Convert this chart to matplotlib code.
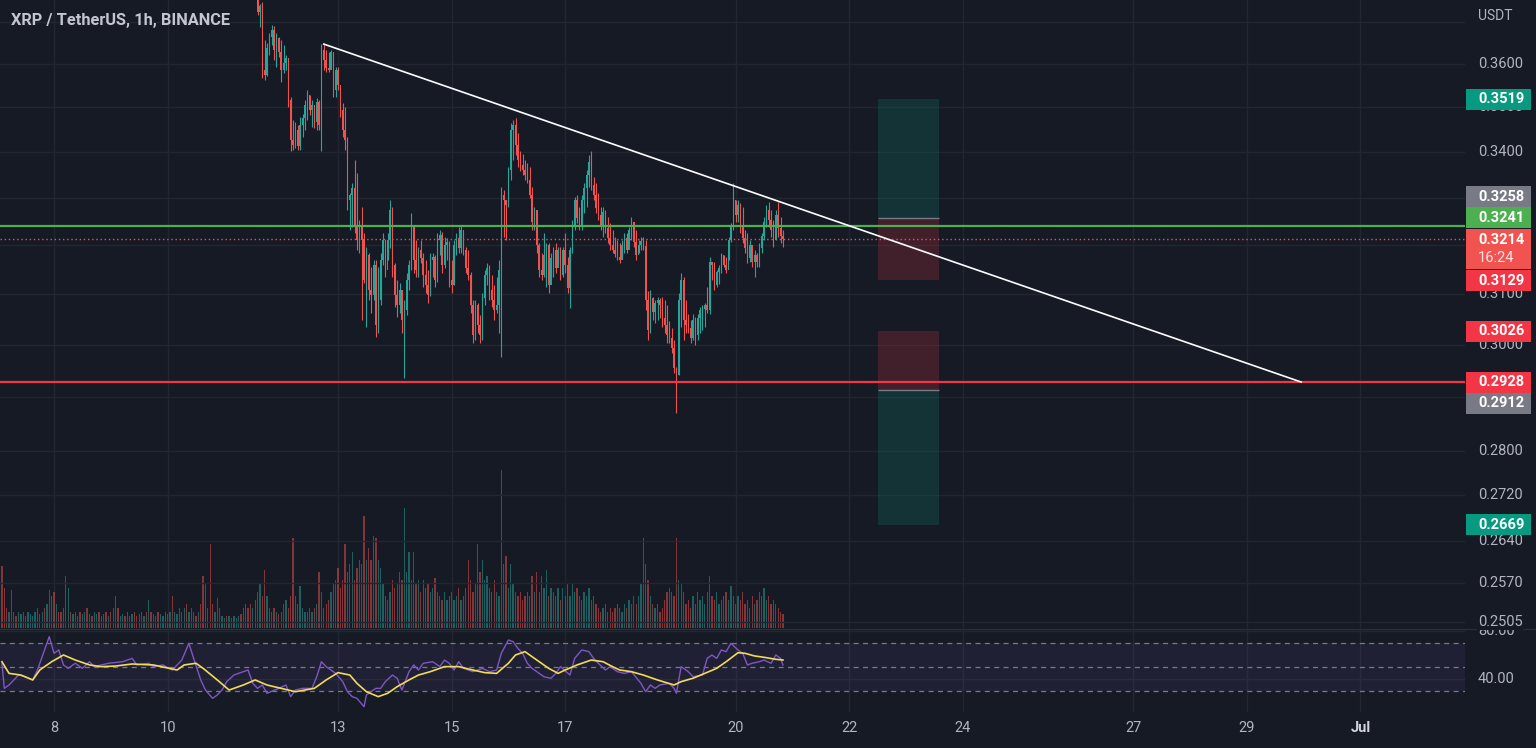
import numpy as np
import pandas as pd
import matplotlib
matplotlib.use('Agg')
import matplotlib.pyplot as plt
import matplotlib.transforms as mtransforms
from matplotlib.patches import Rectangle
from matplotlib.lines import Line2D

plt.rcParams['font.family'] = ['Roboto', 'DejaVu Sans']

# ---------------- data ----------------
# hourly candles, 2022-06-11 14:00 .. 2022-06-20 20:00 (XRP/USDT, Binance)
first_open = 0.3790
closes = [
    0.3724, 0.3739, 0.3586, 0.3574, 0.3638, 0.3664, 0.3681, 0.3633, 0.3662, 0.3628,
    0.3586, 0.3602, 0.3614, 0.3517, 0.3427, 0.3416, 0.3449, 0.3413, 0.3460, 0.3476,
    0.3505, 0.3528, 0.3494, 0.3505, 0.3467, 0.3512, 0.3460, 0.3633,
    0.3609, 0.3591, 0.3586, 0.3628, 0.3540, 0.3586, 0.3551, 0.3494, 0.3449, 0.3427,
    0.3296, 0.3306, 0.3321, 0.3242, 0.3211, 0.3242, 0.3211, 0.3129, 0.3180, 0.3108,
    0.3098, 0.3160, 0.3038, 0.3088, 0.3170, 0.3211, 0.3149, 0.3211, 0.3274, 0.3160,
    0.3098, 0.3078, 0.3108, 0.3048, 0.3068, 0.3129, 0.3160, 0.3242, 0.3170, 0.3149,
    0.3190, 0.3174, 0.3139, 0.3119, 0.3098, 0.3170, 0.3176, 0.3129, 0.3211, 0.3221,
    0.3160, 0.3200, 0.3207, 0.3129, 0.3119, 0.3200, 0.3215, 0.3194, 0.3232, 0.3190,
    0.3153, 0.3139, 0.3078, 0.3019, 0.3078, 0.3038, 0.3019, 0.3092, 0.3139, 0.3153,
    0.3108, 0.3088, 0.3068, 0.3078, 0.3149, 0.3306, 0.3296, 0.3285, 0.3361, 0.3449,
    0.3460, 0.3416,
    0.3382, 0.3371, 0.3361, 0.3350, 0.3339, 0.3306, 0.3249, 0.3274, 0.3200, 0.3149,
    0.3139, 0.3180, 0.3200, 0.3119, 0.3174, 0.3190, 0.3153, 0.3190, 0.3139, 0.3190,
    0.3160, 0.3112, 0.3190, 0.3242, 0.3296, 0.3257, 0.3242, 0.3296, 0.3321, 0.3350,
    0.3378, 0.3328,
    0.3306, 0.3278, 0.3263, 0.3242, 0.3270, 0.3236, 0.3215, 0.3200, 0.3190, 0.3182,
    0.3176, 0.3170, 0.3200, 0.3215, 0.3190, 0.3232, 0.3249, 0.3207, 0.3180, 0.3200,
    0.3209, 0.3198,
    0.3088, 0.3029, 0.3092, 0.3064, 0.3082, 0.3088, 0.3078, 0.3052, 0.3038, 0.3019,
    0.3013, 0.2994, 0.2955, 0.2941,
    0.3088, 0.3129, 0.3048, 0.3038, 0.3033, 0.3013, 0.3048, 0.3019, 0.3052, 0.3068,
    0.3070, 0.3078, 0.3068, 0.3166, 0.3160, 0.3119, 0.3145, 0.3153, 0.3180, 0.3160,
    0.3149, 0.3211, 0.3242, 0.3296,
    0.3263, 0.3285, 0.3242, 0.3215, 0.3194, 0.3174, 0.3200, 0.3166, 0.3180, 0.3166,
    0.3194, 0.3219, 0.3249, 0.3274, 0.3253, 0.3232, 0.3211, 0.3263, 0.3236, 0.3219,
    0.3214,
]
highs = [
    0.3800, 0.3743, 0.3748, 0.3657, 0.3650, 0.3674, 0.3693, 0.3690, 0.3674, 0.3664,
    0.3657, 0.3645, 0.3621, 0.3614, 0.3524, 0.3471, 0.3467, 0.3460, 0.3478, 0.3485,
    0.3517, 0.3540, 0.3528, 0.3517, 0.3505, 0.3521, 0.3517, 0.3647,
    0.3650, 0.3633, 0.3628, 0.3633, 0.3626, 0.3593, 0.3593, 0.3547, 0.3510, 0.3501,
    0.3433, 0.3310, 0.3332, 0.3382, 0.3354, 0.3253, 0.3281, 0.3226, 0.3197, 0.3184,
    0.3155, 0.3170, 0.3170, 0.3155, 0.3184, 0.3226, 0.3211, 0.3226, 0.3296, 0.3280,
    0.3164, 0.3129, 0.3123, 0.3108, 0.3088, 0.3143, 0.3170, 0.3267, 0.3242, 0.3211,
    0.3197, 0.3211, 0.3184, 0.3170, 0.3149, 0.3184, 0.3184, 0.3180, 0.3226, 0.3232,
    0.3228, 0.3217, 0.3215, 0.3210, 0.3170, 0.3211, 0.3226, 0.3238, 0.3242, 0.3232,
    0.3197, 0.3190, 0.3145, 0.3088, 0.3088, 0.3082, 0.3058, 0.3102, 0.3149, 0.3164,
    0.3160, 0.3139, 0.3119, 0.3135, 0.3170, 0.3324, 0.3317, 0.3296, 0.3367, 0.3464,
    0.3471, 0.3475,
    0.3442, 0.3402, 0.3395, 0.3382, 0.3376, 0.3367, 0.3324, 0.3280, 0.3274, 0.3205,
    0.3184, 0.3226, 0.3205, 0.3205, 0.3184, 0.3197, 0.3205, 0.3197, 0.3197, 0.3197,
    0.3226, 0.3176, 0.3197, 0.3253, 0.3302, 0.3306, 0.3280, 0.3306, 0.3332, 0.3361,
    0.3393, 0.3402,
    0.3345, 0.3332, 0.3311, 0.3280, 0.3280, 0.3274, 0.3259, 0.3247, 0.3232, 0.3217,
    0.3211, 0.3205, 0.3211, 0.3226, 0.3226, 0.3238, 0.3259, 0.3238, 0.3232, 0.3211,
    0.3217, 0.3217,
    0.3211, 0.3106, 0.3108, 0.3094, 0.3088, 0.3094, 0.3092, 0.3094, 0.3088, 0.3078,
    0.3046, 0.3033, 0.3009, 0.2957,
    0.3102, 0.3143, 0.3135, 0.3088, 0.3060, 0.3048, 0.3060, 0.3054, 0.3060, 0.3074,
    0.3078, 0.3082, 0.3114, 0.3176, 0.3166, 0.3165, 0.3149, 0.3160, 0.3184, 0.3180,
    0.3176, 0.3217, 0.3247, 0.3332,
    0.3296, 0.3296, 0.3290, 0.3280, 0.3232, 0.3226, 0.3211, 0.3200, 0.3190, 0.3184,
    0.3205, 0.3226, 0.3259, 0.3285, 0.3291, 0.3274, 0.3253, 0.3274, 0.3291, 0.3259,
    0.3232,
]
lows = [
    0.3717, 0.3688, 0.3568, 0.3563, 0.3572, 0.3621, 0.3645, 0.3609, 0.3593, 0.3616,
    0.3558, 0.3580, 0.3586, 0.3501, 0.3402, 0.3404, 0.3409, 0.3404, 0.3404, 0.3433,
    0.3449, 0.3471, 0.3482, 0.3456, 0.3453, 0.3449, 0.3449, 0.3402,
    0.3586, 0.3582, 0.3582, 0.3593, 0.3524, 0.3524, 0.3540, 0.3478, 0.3433, 0.3404,
    0.3274, 0.3232, 0.3238, 0.3226, 0.3190, 0.3184, 0.3048, 0.3123, 0.3035, 0.3088,
    0.3062, 0.3088, 0.3015, 0.3023, 0.3078, 0.3160, 0.3135, 0.3170, 0.3194, 0.3135,
    0.3074, 0.3054, 0.3062, 0.3023, 0.2936, 0.3058, 0.3108, 0.3149, 0.3143, 0.3135,
    0.3135, 0.3164, 0.3115, 0.3102, 0.3082, 0.3096, 0.3135, 0.3115, 0.3125, 0.3180,
    0.3143, 0.3153, 0.3170, 0.3115, 0.3102, 0.3119, 0.3180, 0.3184, 0.3184, 0.3180,
    0.3143, 0.3129, 0.3062, 0.3003, 0.3009, 0.3023, 0.3003, 0.3010, 0.3078, 0.3119,
    0.3088, 0.3074, 0.3048, 0.3062, 0.3023, 0.2976, 0.3217, 0.3211, 0.3280, 0.3339,
    0.3382, 0.3393,
    0.3367, 0.3358, 0.3350, 0.3339, 0.3332, 0.3300, 0.3232, 0.3232, 0.3184, 0.3135,
    0.3129, 0.3135, 0.3115, 0.3102, 0.3129, 0.3135, 0.3143, 0.3164, 0.3129, 0.3135,
    0.3143, 0.3102, 0.3072, 0.3184, 0.3232, 0.3247, 0.3232, 0.3232, 0.3268, 0.3280,
    0.3324, 0.3317,
    0.3296, 0.3268, 0.3253, 0.3232, 0.3217, 0.3226, 0.3205, 0.3190, 0.3184, 0.3176,
    0.3170, 0.3164, 0.3176, 0.3184, 0.3184, 0.3205, 0.3211, 0.3197, 0.3170, 0.3184,
    0.3190, 0.3190,
    0.3068, 0.3009, 0.3023, 0.3048, 0.3042, 0.3048, 0.3052, 0.3035, 0.3023, 0.3003,
    0.3003, 0.2984, 0.2945, 0.2869,
    0.2941, 0.3035, 0.3009, 0.3023, 0.3023, 0.3003, 0.3009, 0.3000, 0.3009, 0.3023,
    0.3029, 0.3035, 0.3062, 0.3060, 0.3129, 0.3108, 0.3115, 0.3121, 0.3143, 0.3155,
    0.3143, 0.3170, 0.3207, 0.3232,
    0.3249, 0.3249, 0.3226, 0.3205, 0.3184, 0.3164, 0.3166, 0.3155, 0.3135, 0.3155,
    0.3155, 0.3184, 0.3211, 0.3238, 0.3238, 0.3217, 0.3197, 0.3211, 0.3217, 0.3205,
    0.3197,
]

# hourly volume (M XRP), 2022-06-07 02:00 .. 2022-06-20 20:00
volume = [
    15.5, 10, 5, 4, 9.5, 4, 3, 4, 3.5, 4, 3, 4, 3.5, 3, 4, 5, 3.5, 4, 5, 6, 9.5, 8, 9, 6,
    4, 4, 5, 13, 10, 4, 3.5, 4, 3, 4, 3.5, 4, 5, 3.5, 3, 4, 3.5, 4, 3, 3.5, 4, 3, 4, 5,
    8, 5, 3, 3.5, 3, 4, 3, 3.5, 4, 3, 3.5, 4, 3, 4, 7, 4, 3.5, 3, 4, 3.5, 3, 4, 3.5, 4,
    8, 4, 3.5, 5, 4, 5, 6, 4, 5, 4, 3, 4, 6, 13, 11, 5, 21, 6, 4, 7.5, 5, 3, 2.5, 3,
    3, 2.5, 3, 2.5, 3, 3.5, 5, 6, 5, 6, 5, 7, 9, 11, 8, 14.5, 8, 5, 4, 5, 4, 3.5, 4, 6,
    7, 5, 8, 22.5, 8, 6, 10.5, 5, 4, 4, 5, 4, 5, 6, 14, 9, 5, 6, 7, 9, 11, 12, 15, 10,
    12, 21, 14, 16, 19, 12, 15, 17, 16, 28, 17, 20, 17, 23, 22.5, 17, 15, 11, 8, 7, 9, 12, 10, 11,
    14, 12, 30, 14, 19, 12, 19, 11, 12, 9, 12, 10, 11, 9, 10, 12.5, 9, 8, 7, 9, 7, 8, 9, 7,
    8, 10, 7, 8, 10, 17, 12, 9, 11, 21, 14, 17, 12, 13, 10, 9, 12, 9, 8, 39.5, 16, 18, 10, 16,
    11, 9, 8, 9, 7, 8, 9, 8, 13, 9, 14, 9, 13, 10, 14.5, 8, 10, 9, 8, 10, 7, 10, 8, 11,
    8, 11, 9, 10, 8, 7, 9, 8, 10, 7, 8, 6, 5, 4, 5, 6, 4, 5, 4, 5, 6, 5, 4, 6,
    5, 7, 6, 8, 6, 8, 11, 22.5, 16, 12, 8, 6, 5, 6, 4, 5, 7, 9, 10, 9, 8, 22.5, 12, 11,
    9, 6, 7, 5, 8, 6, 9, 7, 8, 6, 9, 13, 8, 7, 9, 6, 7, 8, 9, 7, 10.5, 8, 6, 8,
    7, 9, 6, 7, 5, 8, 6, 7, 9, 8, 10, 7, 8, 6, 7, 6, 5, 4, 3.5,
]
# bar direction for the hours whose candles sit above the visible price range
early_dir = ("rrrgggrggg" "rgggggggrg" "rrrgrrrrgr" "grgrggrgrg" "grgrrgrggr"
             "ggrgrgrrgg" "grgrggrggr" "ggrgggrgrg" "rrrgrrrrrr" "grgggrgggg" "grgrrrgr")

# RSI(14) and its moving average: hour offset from 2022-06-07 02:00, value
rsi_h = [0, 1, 3, 7, 10, 13, 15, 18, 20, 22, 24, 26, 28, 31, 34, 37, 39, 42, 45, 51,
         55, 57, 62, 64, 68, 72, 76, 79, 81, 84, 86, 89, 91, 93, 95, 98, 102, 104, 106, 108,
         110, 112, 117, 120, 122, 124, 127, 131, 133, 135, 137, 139, 141, 144, 146, 148, 150, 153, 154, 158,
         160, 162, 165, 167, 169, 172, 174, 176, 178, 182, 185, 187, 189, 191, 193, 195, 199, 203, 206, 209,
         211, 214, 216, 218, 220, 222, 224, 227, 229, 232, 234, 236, 240, 242, 245, 248, 250, 252, 255, 257,
         260, 263, 266, 270, 272, 274, 276, 278, 282, 284, 285, 287, 290, 292, 296, 298, 300, 302, 304, 306,
         308, 311, 313, 315, 317, 320, 322, 325, 327, 329, 330]
rsi_v = [53.1, 32.2, 35.0, 43.3, 41.9, 39.2, 47.5, 64.2, 75.3, 61.4,
         64.2, 51.7, 48.9, 53.1, 48.9, 54.4, 50.3, 51.7, 53.1, 54.4,
         57.2, 51.7, 53.1, 50.3, 51.7, 47.5, 55.8, 69.7, 57.2, 39.2,
         30.8, 23.9, 26.7, 30.8, 37.8, 43.3, 46.1, 47.5, 36.4, 32.2,
         35.0, 28.1, 32.2, 35.0, 25.3, 30.8, 32.2, 32.2, 41.9, 54.4,
         50.3, 47.5, 44.7, 37.8, 29.4, 25.3, 23.9, 16.9, 26.7, 32.2,
         32.2, 37.8, 43.3, 40.6, 30.8, 46.1, 51.7, 47.5, 53.1, 54.4,
         50.3, 55.8, 53.1, 47.5, 54.4, 48.9, 46.1, 48.9, 46.1, 47.5,
         61.4, 72.5, 71.1, 65.6, 61.4, 53.1, 48.9, 44.7, 41.9, 40.6,
         44.7, 50.3, 43.3, 57.2, 64.2, 62.8, 57.2, 53.1, 47.5, 50.3,
         46.1, 44.7, 46.1, 36.4, 29.4, 35.0, 32.2, 35.0, 36.4, 32.2,
         28.1, 50.3, 46.1, 41.9, 43.3, 57.2, 60.0, 57.2, 64.2, 62.8,
         69.7, 64.2, 61.4, 51.7, 53.1, 54.4, 55.8, 53.1, 60.0, 57.2,
         51.7]
ma_h = [0, 3, 8, 13, 16, 21, 26, 31, 37, 42, 48, 55, 64, 74, 77, 82, 85, 91, 96, 102,
        107, 112, 118, 124, 132, 137, 142, 147, 150, 154, 159, 163, 167, 172, 176, 181, 187, 193, 199, 204,
        209, 214, 217, 221, 225, 231, 235, 238, 243, 249, 254, 258, 261, 266, 271, 277, 284, 287, 292, 297,
        302, 306, 311, 314, 318, 322, 327, 330]
ma_v = [54.4, 44.7, 43.3, 39.2, 47.5, 54.4, 60.0, 55.8, 51.7, 50.3,
        50.8, 52.5, 51.7, 47.5, 51.7, 53.1, 48.9, 39.2, 30.8, 35.0,
        39.2, 35.0, 32.2, 29.4, 32.2, 39.2, 45.3, 43.3, 36.4, 29.4,
        25.3, 28.1, 33.6, 39.2, 43.3, 46.1, 50.3, 50.3, 47.5, 45.3,
        44.7, 53.1, 60.0, 62.8, 57.2, 48.9, 44.7, 47.5, 51.7, 55.8,
        54.4, 50.3, 47.5, 46.1, 43.3, 39.2, 35.0, 37.8, 40.6, 44.7,
        48.9, 54.4, 61.9, 61.4, 59.2, 58.1, 56.4, 55.8]

# drawings
resistance = 0.3241
support = 0.2928
last_price = 0.3214
trend_pts = (['2022-06-12 18:00', '2022-06-29 23:00'], [0.3647, 0.2928])
pos_span = ('2022-06-22 12:00', '2022-06-23 14:00')
long_entry, long_target, long_stop = 0.3258, 0.3519, 0.3129
short_entry, short_stop, short_target = 0.2912, 0.3026, 0.2669

price_ticks = [0.37, 0.36, 0.35, 0.34, 0.33, 0.32, 0.31, 0.30, 0.29, 0.28, 0.272, 0.264, 0.257, 0.2505]
price_labels = ['', '0.3600', '0.3500', '0.3400', '0.3300', '0.3200', '0.3100', '0.3000', '0.2900',
                '0.2800', '0.2720', '0.2640', '0.2570', '0.2505']
day_ticks = ['2022-06-08', '2022-06-10', '2022-06-13', '2022-06-15', '2022-06-17', '2022-06-20',
             '2022-06-22', '2022-06-24', '2022-06-27', '2022-06-29', '2022-07-01']
day_labels = ['8', '10', '13', '15', '17', '20', '22', '24', '27', '29', 'Jul']

# ---------------- style ----------------
BG = '#161a25'
GRID = '#222631'
TXT = '#b2b5be'
UP = '#26a69a'
DOWN = '#ef5350'

W, H = 1536, 748
fig = plt.figure(figsize=(W / 100, H / 100), dpi=100, facecolor=BG)
main_rect = [0, 1 - 628 / H, 1465 / W, 628 / H]
axv = fig.add_axes(main_rect)
ax = fig.add_axes(main_rect, sharex=axv)
axr = fig.add_axes([0, 1 - 712 / H, 1465 / W, 84 / H], sharex=axv)

t0 = pd.Timestamp('2022-06-07 02:00')
vol_t = pd.date_range(t0, periods=len(volume), freq='h')
n_early = len(volume) - len(closes)
cdl_t = vol_t[n_early:]
opens = [first_open] + closes[:-1]
o = np.array(opens)
c = np.array(closes)
up = c >= o
cdl_cols = np.where(up, UP, DOWN)
vol_cols = [UP if ch == 'g' else DOWN for ch in early_dir] + list(cdl_cols)

base = matplotlib.dates.date2num(pd.Timestamp('2022-06-08'))
px_day = 56.8
axv.set_xlim(base - 54 / px_day, base + 1411 / px_day)

# vertical grid
for d in day_ticks:
    axv.axvline(pd.Timestamp(d), color=GRID, lw=1, zorder=0)
    axr.axvline(pd.Timestamp(d), color=GRID, lw=1, zorder=0)

# volume
axv.bar(vol_t, volume, width=0.55 / 24, color=vol_cols, alpha=0.5, linewidth=0)
axv.set_ylim(0, 157)

# price pane
ax.set_yscale('log')
ax.set_ylim(0.24956, 0.37530)
for v in price_ticks:
    ax.axhline(v, color=GRID, lw=1, zorder=0)

ax.vlines(cdl_t, lows, highs, colors=cdl_cols, lw=0.8, zorder=3)
ax.bar(cdl_t, np.maximum(o, c) - np.minimum(o, c), bottom=np.minimum(o, c),
       width=0.6 / 24, color=cdl_cols, linewidth=0, zorder=3)

ax.axhline(resistance, color='#4caf50', lw=1.6, zorder=4)
ax.axhline(support, color='#f23645', lw=1.6, zorder=4)
ax.axhline(last_price, color=DOWN, lw=1, ls=(0, (1, 2)), zorder=4)

# position tools
x0, x1 = [matplotlib.dates.date2num(pd.Timestamp(t)) for t in pos_span]
for lo, hi, col in [(long_entry, long_target, '#089981'), (long_stop, long_entry, '#f23645'),
                    (short_entry, short_stop, '#f23645'), (short_target, short_entry, '#089981')]:
    ax.add_patch(Rectangle((x0, lo), x1 - x0, hi - lo, facecolor=col, alpha=0.2,
                           edgecolor='none', zorder=2))
ax.hlines([long_entry, short_entry], x0, x1, colors='#787b86', lw=1, zorder=2)

ax.plot(pd.to_datetime(trend_pts[0]), trend_pts[1], color='white', lw=1.2, zorder=5)

# RSI pane
axr.set_ylim(12.5, 82.5)
axr.axhspan(30, 70, color='#7e57c2', alpha=0.1, lw=0)
for v in (40, 80):
    axr.axhline(v, color=GRID, lw=1, zorder=0)
for v in (70, 50, 30):
    axr.axhline(v, color='#787b86', lw=0.9, ls=(0, (4, 3.5)))
axr.plot(t0 + pd.to_timedelta(rsi_h, unit='h'), rsi_v, color='#7e57c2', lw=1.0)
axr.plot(t0 + pd.to_timedelta(ma_h, unit='h'), ma_v, color='#f2dc55', lw=1.2)

for a in (axv, ax, axr):
    a.set_axis_off()

# separator between panes
fig.add_artist(Line2D([0, 1], [1 - 629 / H] * 2, color='#2a2e39', lw=1, transform=fig.transFigure))

# ---------------- text ----------------
fig.text(11 / W, 1 - 20 / H, 'XRP / TetherUS, 1h, BINANCE', color='#c3c6ce', fontsize=11.8,
         weight='bold', va='center', ha='left')
fig.text(1478 / W, 1 - 16 / H, 'USDT', color=TXT, fontsize=10, va='center', ha='left')

def ypix(axis, v):
    return H - axis.transData.transform((0, v))[1]

fig.text(1478 / W, 1 - ypix(axr, 80) / H, '80.00', color=TXT, fontsize=10.5, va='center')
fig.text(1478 / W, 1 - ypix(axr, 40) / H, '40.00', color=TXT, fontsize=10.5, va='center')
for v, lab in zip(price_ticks, price_labels):
    if lab:
        kw = {}
        if lab == '0.2505':
            kw = dict(bbox=dict(facecolor=BG, edgecolor='none', pad=0.5))
        fig.text(1478 / W, 1 - ypix(ax, v) / H, lab, color=TXT, fontsize=10.5, va='center', **kw)

xf = mtransforms.blended_transform_factory(axr.transData, fig.transFigure)
for d, lab in zip(day_ticks, day_labels):
    axr.text(pd.Timestamp(d), 1 - 728 / H, lab, transform=xf, color=TXT if lab != 'Jul' else '#d1d4dc',
             fontsize=10.5, ha='center', va='center', weight='bold' if lab == 'Jul' else 'normal',
             clip_on=False)

# coloured price tags on the scale (drawn over the plain tick labels)
def tag(value, text, color, dy=0, h=21, sub=None):
    yc = ypix(ax, value) + dy
    fig.add_artist(Rectangle((1466 / W, 1 - (yc + h / 2) / H), 65 / W, h / H,
                             transform=fig.transFigure, facecolor=color, edgecolor='none',
                             zorder=10))
    if sub is None:
        fig.text(1478 / W, 1 - yc / H, text, color='white', fontsize=10.5, weight='bold',
                 va='center', zorder=11)
    else:
        fig.text(1478 / W, 1 - (yc - 9) / H, text, color='white', fontsize=10.5, weight='bold',
                 va='center', zorder=11)
        fig.text(1478 / W, 1 - (yc + 9) / H, sub, color='#fbe3e4', fontsize=10.5,
                 va='center', zorder=11)

tag(long_target, '0.3519', '#089981')
tag(long_entry, '0.3258', '#787b86', dy=-21)
tag(resistance, '0.3241', '#4caf50', dy=-8)
tag(last_price, '0.3214', '#f05350', dy=10, h=40, sub='16:24')
tag(long_stop, '0.3129', '#f23645', dy=1)
tag(short_stop, '0.3026', '#f23645')
tag(support, '0.2928', '#f23645')
tag(short_entry, '0.2912', '#787b86', dy=13)
tag(short_target, '0.2669', '#089981')

fig.savefig('out.png', dpi=100, facecolor=BG)
